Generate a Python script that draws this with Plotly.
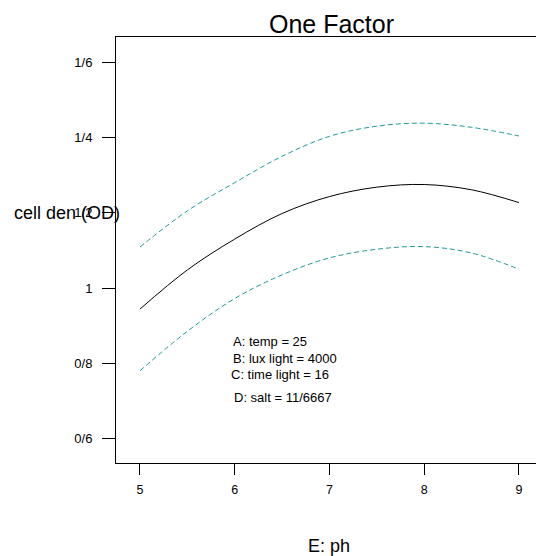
import plotly.graph_objects as go

# Data
ph = [5, 5.5, 6, 6.5, 7, 7.5, 8, 8.5, 9]
cell_den = [0.944, 1.048, 1.130, 1.198, 1.243, 1.268, 1.275, 1.261, 1.227]
upper_ci = [1.109, 1.205, 1.280, 1.350, 1.403, 1.430, 1.438, 1.427, 1.404]
lower_ci = [0.780, 0.885, 0.972, 1.035, 1.080, 1.103, 1.110, 1.093, 1.050]

x_ticks = [5, 6, 7, 8, 9]
x_tick_labels = ["5", "6", "7", "8", "9"]
y_ticks = [0.6, 0.8, 1.0, 1.2, 1.4, 1.6]
y_tick_labels = ["0/6", "0/8", "1", "1/2", "1/4", "1/6"]

factor_notes = ["A: temp = 25", "B: lux light = 4000", "C: time light = 16", "D: salt = 11/6667"]

teal = "#1F9A9A"
fig = go.Figure()
fig.add_trace(go.Scatter(x=ph, y=upper_ci, mode="lines", line=dict(color=teal, width=1, dash="5px,3px", shape="spline")))
fig.add_trace(go.Scatter(x=ph, y=lower_ci, mode="lines", line=dict(color=teal, width=1, dash="5px,3px", shape="spline")))
fig.add_trace(go.Scatter(x=ph, y=cell_den, mode="lines", line=dict(color="black", width=1, shape="spline")))

font_family = "Liberation Sans, Arial, sans-serif"
fig.update_layout(
    width=536, height=556,
    margin=dict(l=116, r=0, t=37, b=93),
    paper_bgcolor="white", plot_bgcolor="white",
    showlegend=False,
    font=dict(family=font_family, color="black"),
    xaxis=dict(range=[4.747, 9.18], tickvals=x_ticks, ticktext=x_tick_labels,
               showgrid=False, zeroline=False, showline=True, linecolor="black", linewidth=1,
               mirror=True, ticks="outside", ticklen=11, tickcolor="black", tickwidth=1,
               tickfont=dict(size=12.5), ticklabelstandoff=4),
    yaxis=dict(range=[0.535, 1.667], tickvals=y_ticks, ticktext=y_tick_labels,
               showgrid=False, zeroline=False, showline=True, linecolor="black", linewidth=1,
               ticks="outside", ticklen=13, tickcolor="black", tickwidth=1,
               tickfont=dict(size=13), ticklabelstandoff=7),
)

annos = [
    dict(text="One Factor", x=(331 - 116) / 420, y=(463 - 24) / 426, xref="paper", yref="paper",
         xanchor="center", yanchor="middle", showarrow=False, font=dict(size=25)),
    dict(text="cell den (OD)", x=(12 - 116) / 420, y=(463 - 213) / 426, xref="paper", yref="paper",
         xanchor="left", yanchor="middle", showarrow=False, font=dict(size=18)),
    dict(text="E: ph", x=(329 - 116) / 420, y=(463 - 546) / 426, xref="paper", yref="paper",
         xanchor="center", yanchor="middle", showarrow=False, font=dict(size=18)),
]
note_x = [5.96, 5.96, 5.94, 5.97]
note_y = [0.857, 0.814, 0.769, 0.708]
for t, nx, ny in zip(factor_notes, note_x, note_y):
    annos.append(dict(text=t, x=nx, y=ny, xref="x", yref="y", xanchor="left", yanchor="middle",
                      showarrow=False, font=dict(size=13)))
fig.update_layout(annotations=annos)

fig.write_html("out.html", config={"displayModeBar": False},
               post_script="document.body.style.margin='0';document.body.style.overflow='hidden';")
